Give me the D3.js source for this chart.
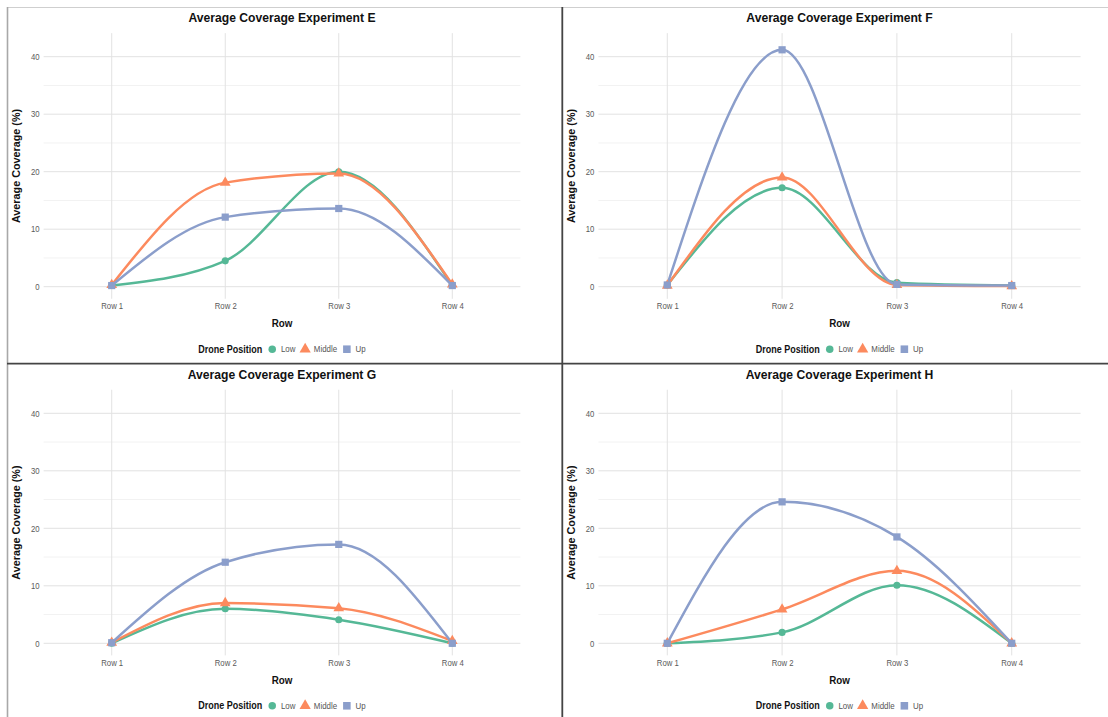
<!DOCTYPE html>
<html>
<head>
<meta charset="utf-8">
<script src="https://cdn.jsdelivr.net/npm/d3@7"></script>
<style>
  body { margin: 0; background: #fff; }
  svg { display: block; font-family: "Liberation Sans", Arial, sans-serif; }
</style>
</head>
<body>
<svg width="1108" height="717"></svg>
<script>
const rowLabels = ['Row 1', 'Row 2', 'Row 3', 'Row 4']
const positions = ['Low', 'Middle', 'Up']
const colors = ['#55b896', '#fc8a5e', '#8b9ecb']
const yTicks = [0, 10, 20, 30, 40]
const yMinor = [5, 15, 25, 35]
const titles = ['Average Coverage Experiment E', 'Average Coverage Experiment F',
  'Average Coverage Experiment G', 'Average Coverage Experiment H']

// values (%)
const eLow = [0.2, 4.5, 20.0, 0.2]
const eMiddle = [0.3, 18.1, 19.7, 0.4]
const eUp = [0.2, 12.1, 13.6, 0.2]
const fLow = [0.3, 17.2, 0.7, 0.2]
const fMiddle = [0.2, 19.0, 0.3, 0.1]
const fUp = [0.3, 41.2, 0.4, 0.2]
const gLow = [0.0, 6.0, 4.1, 0.0]
const gMiddle = [0.1, 7.0, 6.1, 0.4]
const gUp = [0.1, 14.1, 17.2, 0.0]
const hLow = [0.0, 1.9, 10.1, 0.0]
const hMiddle = [0.0, 5.9, 12.6, 0.0]
const hUp = [0.0, 24.6, 18.5, 0.0]

const panels = [
  { title: titles[0], series: [eLow, eMiddle, eUp], col: 0, row: 0 },
  { title: titles[1], series: [fLow, fMiddle, fUp], col: 1, row: 0 },
  { title: titles[2], series: [gLow, gMiddle, gUp], col: 0, row: 1 },
  { title: titles[3], series: [hLow, hMiddle, hUp], col: 1, row: 1 }
]

const svg = d3.select('svg')
const squeeze = 'scale(0.9,1)'

// plot area per column / row
const colLeft = [43.6, 598.4]
const colRight = [520.4, 1080.6]
const rowZero = [286.7, 643.3]
const pxPerUnit = 5.75

const symbols = [d3.symbolCircle, d3.symbolTriangle, d3.symbolSquare]
const symbolSize = [40, 50, 52]

function hText (g, x, y, txt) {
  // horizontal text, slightly condensed like the original figure
  return g.append('g').attr('transform', `translate(${x},${y})`)
    .append('text').attr('transform', squeeze).text(txt)
}

panels.forEach(function (p) {
  const left = colLeft[p.col]
  const right = colRight[p.col]
  const y0 = rowZero[p.row]
  const top = y0 - 44.1 * pxPerUnit
  const bottom = y0 + 2.1 * pxPerUnit
  const cx = (left + right) / 2

  const x = d3.scalePoint().domain(rowLabels).range([left, right]).padding(0.6)
  const y = d3.scaleLinear().domain([-2.1, 44.1]).range([bottom, top])

  const g = svg.append('g')

  // minor grid
  g.append('g').selectAll('line').data(yMinor).join('line')
    .attr('x1', left).attr('x2', right)
    .attr('y1', d => y(d)).attr('y2', d => y(d))
    .attr('stroke', '#f2f2f2').attr('stroke-width', 1)

  // major grid
  g.append('g').selectAll('line').data(yTicks).join('line')
    .attr('x1', left).attr('x2', right)
    .attr('y1', d => y(d)).attr('y2', d => y(d))
    .attr('stroke', '#e2e2e2').attr('stroke-width', 1)
  g.append('g').selectAll('line').data(rowLabels).join('line')
    .attr('x1', d => x(d)).attr('x2', d => x(d))
    .attr('y1', top).attr('y2', bottom)
    .attr('stroke', '#e2e2e2').attr('stroke-width', 1)

  // axes (labels only)
  const yAxis = g.append('g').attr('transform', `translate(${left},0)`)
    .call(d3.axisLeft(y).tickValues(yTicks).tickSize(0).tickPadding(4.5))
  const xAxis = g.append('g').attr('transform', `translate(0,${bottom})`)
    .call(d3.axisBottom(x).tickSize(0).tickPadding(4.6))
  ;[yAxis, xAxis].forEach(function (a) {
    a.select('.domain').remove()
    a.selectAll('text').attr('fill', '#5a5a5a').style('font-size', '8.6px')
      .attr('transform', squeeze)
    a.attr('font-family', null).attr('font-size', null)
  })

  // lines
  const line = d3.line()
    .x((d, i) => x(rowLabels[i]))
    .y(d => y(d))
    .curve(d3.curveMonotoneX)
  g.append('g').selectAll('path').data(p.series).join('path')
    .attr('d', line)
    .attr('fill', 'none')
    .attr('stroke', (d, i) => colors[i])
    .attr('stroke-width', 2.5)
    .attr('stroke-linejoin', 'round')

  // points
  p.series.forEach(function (vals, si) {
    g.append('g').selectAll('path').data(vals).join('path')
      .attr('transform', (d, i) => `translate(${x(rowLabels[i])},${y(d)})`)
      .attr('d', d3.symbol().type(symbols[si]).size(symbolSize[si]))
      .attr('fill', colors[si])
  })

  // title
  hText(g, cx, y0 - 269.2 + 4.7, p.title)
    .attr('text-anchor', 'middle')
    .style('font-size', '13.5px').style('font-weight', 'bold').attr('fill', '#111')

  // axis titles
  hText(g, cx, y0 + 36.5 + 3.8, 'Row')
    .attr('text-anchor', 'middle')
    .style('font-size', '10.9px').style('font-weight', 'bold').attr('fill', '#111')
  g.append('text')
    .attr('transform', `translate(${left - 27 + 3.8},${(top + bottom) / 2}) rotate(-90)`)
    .attr('text-anchor', 'middle')
    .style('font-size', '10.8px').style('font-weight', 'bold').attr('fill', '#111')
    .text('Average Coverage (%)')

  // legend
  const ly = y0 + 62.5
  const leg = g.append('g')
  const items = []
  let pos = 0
  const ttl = hText(leg, 0, ly + 3.4, 'Drone Position')
    .style('font-size', '10px').style('font-weight', 'bold').attr('fill', '#111')
  pos += ttl.node().getComputedTextLength() * 0.9 + 6
  positions.forEach(function (name, i) {
    items.push({ i: i, keyX: pos + 4 })
    pos += 8 + 4.7
    const t = hText(leg, pos, ly + 2.9, name)
      .style('font-size', '8.8px').attr('fill', '#555')
    pos += t.node().getComputedTextLength() * 0.9 + 5.7
  })
  pos -= 5.7
  leg.selectAll('path.key').data(items).join('path')
    .attr('class', 'key')
    .attr('transform', d => `translate(${d.keyX},${ly})`)
    .attr('d', d => d3.symbol().type(symbols[d.i]).size(symbolSize[d.i] * 1.1)())
    .attr('fill', d => colors[d.i])
  leg.attr('transform', `translate(${cx - pos / 2},0)`)
})

// panel frames
const frame = svg.append('g')
frame.append('line').attr('x1', 7).attr('x2', 1108).attr('y1', 7.5).attr('y2', 7.5)
  .attr('stroke', '#cfcfcf').attr('stroke-width', 1.2)
frame.append('line').attr('x1', 7.5).attr('x2', 7.5).attr('y1', 7).attr('y2', 717)
  .attr('stroke', '#a8a8a8').attr('stroke-width', 1.6)
frame.append('line').attr('x1', 562.3).attr('x2', 562.3).attr('y1', 7).attr('y2', 717)
  .attr('stroke', '#444').attr('stroke-width', 1.8)
frame.append('line').attr('x1', 7).attr('x2', 1108).attr('y1', 363.6).attr('y2', 363.6)
  .attr('stroke', '#444').attr('stroke-width', 1.8)
</script>
</body>
</html>
